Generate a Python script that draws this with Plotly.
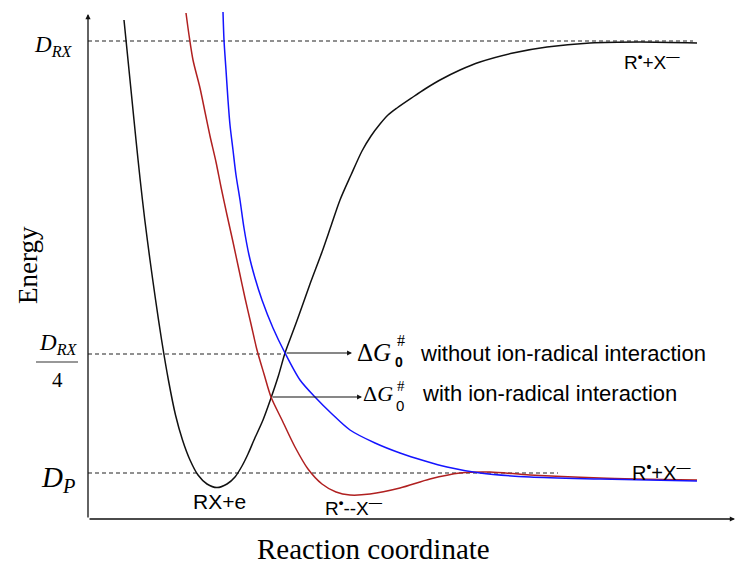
import plotly.graph_objects as go

# Potential energy curves along the reaction coordinate (arbitrary units)
rx_x = [0.36, 0.40, 0.44, 0.48, 0.522, 0.568, 0.62, 0.676, 0.736, 0.804, 0.875,
        0.945, 1.02, 1.10, 1.19, 1.29, 1.39, 1.47, 1.54, 1.60, 1.66, 1.75, 1.83,
        1.905, 1.97, 2.04, 2.11, 2.22, 2.34, 2.43, 2.52, 2.63, 2.74, 2.83, 2.92,
        3.00, 3.09, 3.25, 3.37, 3.52, 3.72, 3.92, 4.25, 4.59, 5.02, 5.52, 6.09]
rx_e = [4.99, 4.59, 4.19, 3.79, 3.39, 2.99, 2.59, 2.19, 1.79, 1.39, 1.04, 0.79,
        0.59, 0.44, 0.35, 0.315, 0.35, 0.42, 0.53, 0.65, 0.79, 0.99, 1.21, 1.435,
        1.66, 1.85, 2.04, 2.35, 2.67, 2.93, 3.19, 3.44, 3.68, 3.83, 3.95, 4.04,
        4.11, 4.22, 4.30, 4.39, 4.49, 4.57, 4.66, 4.72, 4.76, 4.77, 4.76]

ion_rad_x = [0.98, 1.01, 1.05, 1.12, 1.17, 1.22, 1.28, 1.33, 1.39, 1.45, 1.51,
             1.57, 1.63, 1.69, 1.76, 1.83, 1.94, 2.07, 2.20, 2.34, 2.48, 2.62,
             2.82, 3.12, 3.42, 3.72, 4.02, 4.42, 5.12, 6.09]
ion_rad_e = [5.06, 4.84, 4.59, 4.31, 4.07, 3.83, 3.57, 3.32, 3.04, 2.77, 2.49,
             2.21, 1.95, 1.69, 1.45, 1.22, 0.99, 0.72, 0.50, 0.35, 0.27, 0.24,
             0.25, 0.31, 0.40, 0.46, 0.47, 0.44, 0.41, 0.39]

no_int_x = [1.35, 1.36, 1.38, 1.40, 1.42, 1.45, 1.48, 1.52, 1.56, 1.61, 1.67,
            1.74, 1.85, 1.97, 2.12, 2.27, 2.44, 2.62, 2.87, 3.12, 3.37, 3.59,
            3.92, 4.42, 5.12, 6.09]
no_int_e = [5.07, 4.79, 4.49, 4.19, 3.94, 3.69, 3.44, 3.19, 2.91, 2.64, 2.41,
            2.19, 1.91, 1.66, 1.39, 1.22, 1.05, 0.89, 0.76, 0.66, 0.58, 0.52,
            0.46, 0.42, 0.40, 0.38]

# Reference energy levels (D_RX, D_RX/4, D_P) and where their guide lines stop
level_e = [4.78, 1.65, 0.46]
level_x_end = [6.05, 1.97, 4.70]

# Crossing points of the product curves with the RX+e curve, and arrow ends
cross_x = [1.97, 1.83]
cross_e = [1.66, 1.22]
arrow_x_end = [2.64, 2.74]

X_MAX, Y_MAX = 6.48, 5.07
L, T, B = 88, 12, 48
W, H = 736, 567
PW, PH = W - L, H - T - B


def px(xp):
    return (xp - L) / PW


def py(yp):
    return (H - B - yp) / PH


fig = go.Figure()

# guide levels
for e, xe in zip(level_e, level_x_end):
    fig.add_trace(go.Scatter(x=[0, xe], y=[e, e], mode="lines",
                             line=dict(color="#222222", width=1.1, dash="4px,3px"),
                             hoverinfo="skip", showlegend=False))

for cx, ce, colour in ((rx_x, rx_e, "#111111"),
                       (ion_rad_x, ion_rad_e, "#b02020"),
                       (no_int_x, no_int_e, "#1414ff")):
    fig.add_trace(go.Scatter(x=cx, y=ce, mode="lines", line_shape="spline",
                             line=dict(color=colour, width=1.5, smoothing=0.8),
                             showlegend=False))

ann = []

# axes with arrowheads
ann.append(dict(x=0, y=Y_MAX - 0.02, ax=0, ay=0, xref="x", yref="y", axref="x", ayref="y",
                showarrow=True, arrowhead=2, arrowsize=0.8, arrowwidth=1.3,
                arrowcolor="#111111", text=""))
ann.append(dict(x=X_MAX - 0.01, y=0, ax=0, ay=0, xref="x", yref="y", axref="x", ayref="y",
                showarrow=True, arrowhead=2, arrowsize=0.8, arrowwidth=1.3,
                arrowcolor="#111111", text=""))

# arrows from crossing points to the barrier labels
for cx, ce, xe in zip(cross_x, cross_e, arrow_x_end):
    ann.append(dict(x=xe, y=ce, ax=cx, ay=ce, xref="x", yref="y", axref="x", ayref="y",
                    showarrow=True, arrowhead=2, arrowsize=0.9, arrowwidth=1.1,
                    arrowcolor="#111111", text=""))

serif = "Liberation Serif"
sans = "Liberation Sans"


def label(text, xp, yp, size, family, xanchor="center", yanchor="middle", angle=0):
    ann.append(dict(text=text, x=px(xp), y=py(yp), xref="paper", yref="paper",
                    xanchor=xanchor, yanchor=yanchor, showarrow=False, textangle=angle,
                    font=dict(family=family, size=size, color="#000000")))


# level labels
label("<i>D<sub>RX</sub></i>", 74, 46, 23, serif, xanchor="right")
label("<i>D<sub>RX</sub></i>", 79, 344, 23, serif, xanchor="right")
label("4", 57, 380, 21, serif)
label("<i>D<sub>P</sub></i>", 77, 479, 29, serif, xanchor="right")

# barrier labels
label("Δ<i>G</i>", 355, 352, 25, serif, xanchor="left")
label("<b>0</b>", 393, 362, 14, sans, xanchor="left")
label("#", 395, 340, 16, serif, xanchor="left")
label("without ion-radical interaction", 418, 353, 22, sans, xanchor="left")

label("Δ<i>G</i>", 361, 393, 22, serif, xanchor="left")
label("0", 394, 405, 15, sans, xanchor="left")
label("#", 395, 386, 15, serif, xanchor="left")
label("with ion-radical interaction", 420, 393, 22, sans, xanchor="left")

# state labels
label("R<sup><b>•</b></sup>+X<sup>—</sup>", 622, 61, 19, sans, xanchor="left")
label("R<sup><b>•</b></sup>+X<sup>—</sup>", 630, 471, 20, sans, xanchor="left")
label("RX+e", 219, 501, 21, sans)
label("R<sup><b>•</b></sup>--X<sup>—</sup>", 323, 507, 19, sans, xanchor="left")

# axis titles
label("Energy", 28, 265, 27, serif, angle=-90)
label("Reaction coordinate", 373, 549, 29, serif)

fig.update_layout(
    width=W, height=H,
    margin=dict(l=L, r=0, t=T, b=B),
    paper_bgcolor="white", plot_bgcolor="white",
    xaxis=dict(range=[0, X_MAX], visible=False, fixedrange=True),
    yaxis=dict(range=[0, Y_MAX], visible=False, fixedrange=True),
    annotations=ann,
    shapes=[dict(type="line", xref="paper", yref="paper",
                 x0=px(36), x1=px(78), y0=py(362), y1=py(362),
                 line=dict(color="#333333", width=1.2))],
    showlegend=False,
)

fig.write_html("out.html")
